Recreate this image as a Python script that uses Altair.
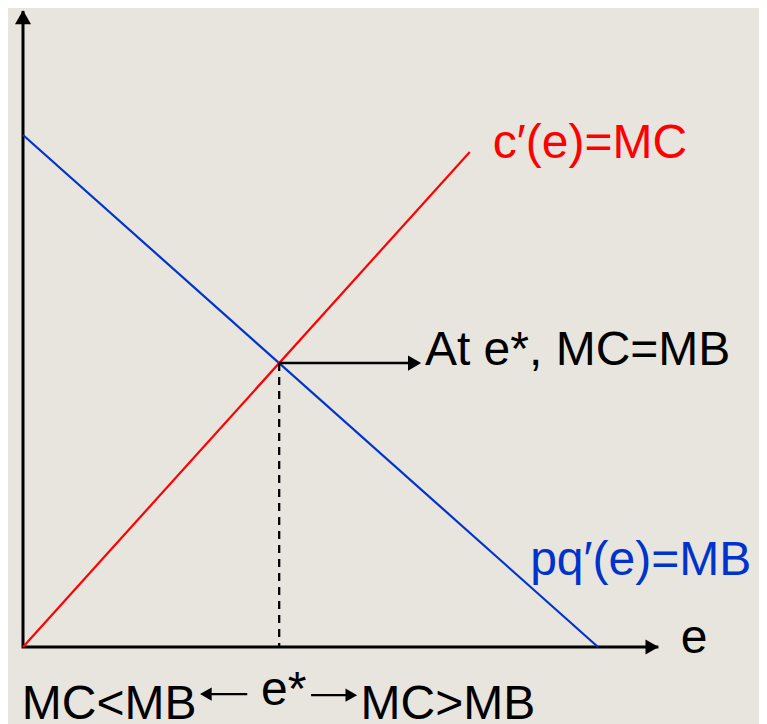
import altair as alt
import pandas as pd

# ---- data (economic units) ----
mb_e = [0, 10]          # marginal benefit curve pq'(e)
mb_v = [10, 0]
mc_e = [0, 7.77]        # marginal cost curve c'(e)
mc_v = [0, 9.67]

axis_top = 12.42        # end of vertical axis
axis_right = 11.05      # end of horizontal axis

# intersection e*
mc_slope = mc_v[1] / mc_e[1]
mb_slope = (mb_v[1] - mb_v[0]) / (mb_e[1] - mb_e[0])
e_star = mb_v[0] / (mc_slope - mb_slope)
v_star = mc_slope * e_star

labels = ["c\u2032(e)=MC", "At e*, MC=MB", "pq\u2032(e)=MB", "e", "MC<MB", "e*", "MC>MB"]
label_e = [8.17, 6.99, 8.82, 11.44, -0.02, 4.14, 5.87]
label_v = [9.55, 5.51, 1.41, -0.12, -1.41, -1.13, -1.41]
label_col = ["#ff0000", "#000000", "#0033cc", "#000000", "#000000", "#000000", "#000000"]

# arrows: (start e, end e, v)
arrow_main = [e_star, 6.87, v_star]
arrow_left = [3.90, 3.08, -0.92]
arrow_right = [5.01, 5.81, -0.94]

# ---- layout ----
W, H = 751, 716
px_e = 57.5   # pixels per e-unit
px_v = 51.2   # pixels per v-unit
ox, oy = 23 - 8, 647 - 8  # origin inside plot area
xdom = [-ox / px_e, (W - ox) / px_e]
ydom = [(oy - H) / px_v, oy / px_v]

xs = alt.Scale(domain=xdom, nice=False, zero=False)
ys = alt.Scale(domain=ydom, nice=False, zero=False)

def X(f="e"):
    return alt.X(f"{f}:Q", scale=xs, axis=None)

def Y(f="v"):
    return alt.Y(f"{f}:Q", scale=ys, axis=None)

# axes
axes_df = pd.DataFrame({"e": [0, 0, axis_right], "v": [axis_top, 0, 0], "o": [0, 1, 2]})
axes = alt.Chart(axes_df).mark_line(color="black", strokeWidth=3, strokeJoin="miter", strokeCap="butt").encode(
    x=X(), y=Y(), order="o:Q")

heads_df = pd.DataFrame({
    "e": [0, axis_right - 0.11, arrow_main[1] - 0.06, arrow_left[1] + 0.10, arrow_right[1] - 0.10],
    "v": [axis_top - 0.12, 0, v_star, arrow_left[2], arrow_right[2]],
    "shape": ["triangle-up", "triangle-right", "triangle-right", "triangle-left", "triangle-right"],
    "size": [256, 230, 230, 180, 180],
})
heads = alt.Chart(heads_df).mark_point(filled=True, color="black", opacity=1, strokeWidth=0).encode(
    x=X(), y=Y(),
    shape=alt.Shape("shape:N", scale=None),
    size=alt.Size("size:Q", scale=None))

mb = alt.Chart(pd.DataFrame({"e": mb_e, "v": mb_v})).mark_line(color="#0033cc", strokeWidth=2.2).encode(x=X(), y=Y())
mc = alt.Chart(pd.DataFrame({"e": mc_e, "v": mc_v})).mark_line(color="#ff0000", strokeWidth=2.2).encode(x=X(), y=Y())

dash = alt.Chart(pd.DataFrame({"e": [e_star], "v": [v_star], "v2": [0]})).mark_rule(
    color="black", strokeWidth=2.3, strokeDash=[8, 6]).encode(x=X(), y=Y(), y2="v2:Q")

shafts_df = pd.DataFrame({
    "e": [arrow_main[0], arrow_left[0], arrow_right[0]],
    "e2": [arrow_main[1] - 0.1, arrow_left[1] + 0.1, arrow_right[1] - 0.1],
    "v": [arrow_main[2], arrow_left[2], arrow_right[2]],
    "w": [2.5, 2.2, 2.2],
})
shafts = alt.Chart(shafts_df).mark_rule(color="black").encode(
    x=X(), x2="e2:Q", y=Y(), strokeWidth=alt.StrokeWidth("w:Q", scale=None))

text_df = pd.DataFrame({"label": labels, "e": label_e, "v": label_v, "c": label_col})
texts = alt.Chart(text_df).mark_text(
    font="Liberation Sans", fontSize=48, align="left", baseline="alphabetic").encode(
    x=X(), y=Y(), text="label:N", color=alt.Color("c:N", scale=None))

chart = alt.layer(axes, mb, mc, dash, shafts, heads, texts).properties(
    width=W, height=H, padding=0, autosize=alt.AutoSizeParams(type="none"),
    background="#e8e4de"
).configure_view(stroke=None)

chart.save("out.html", embed_options={"renderer": "svg", "actions": False})
